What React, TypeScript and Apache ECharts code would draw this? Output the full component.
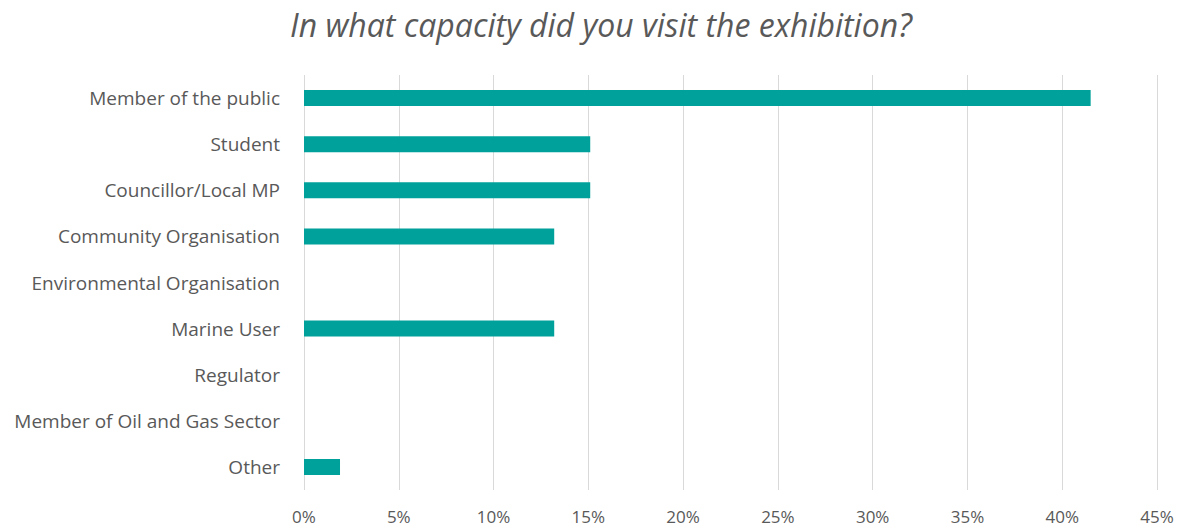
import React, { useEffect, useRef } from "react";
import * as echarts from "echarts";

const categories = [
  "Member of the public",
  "Student",
  "Councillor/Local MP",
  "Community Organisation",
  "Environmental Organisation",
  "Marine User",
  "Regulator",
  "Member of Oil and Gas Sector",
  "Other",
];
const values = [41.5, 15.1, 15.1, 13.2, 0, 13.2, 0, 0, 1.9];
const titleText = "In what capacity did you visit the exhibition?";

const FONT = "'Open Sans', Lato, sans-serif";

export default function App() {
  const ref = useRef<HTMLDivElement>(null);
  useEffect(() => {
    if (!ref.current) return;
    const chart = echarts.init(ref.current, null, { renderer: "svg" });
    chart.setOption({
      animation: false,
      backgroundColor: "#ffffff",
      title: {
        text: titleText,
        left: 290,
        top: 8,
        padding: 0,
        textStyle: {
          fontFamily: FONT,
          fontStyle: "italic",
          fontWeight: "normal",
          fontSize: 32,
          color: "#595959",
        },
      },
      grid: { left: 304, right: 27, top: 75, bottom: 41 },
      xAxis: {
        type: "value",
        min: 0,
        max: 45,
        interval: 5,
        axisLine: { show: false },
        axisTick: { show: false },
        splitLine: { show: true, lineStyle: { color: "#d9d9d9", width: 1 } },
        axisLabel: {
          formatter: (v: number) => `${v}%`,
          color: "#595959",
          fontFamily: FONT,
          fontSize: 17,
          margin: 18,
        },
      },
      yAxis: {
        type: "category",
        data: categories,
        inverse: true,
        axisLine: { show: false },
        axisTick: { show: false },
        axisLabel: {
          color: "#595959",
          fontFamily: FONT,
          fontSize: 19,
          margin: 24,
        },
      },
      series: [
        {
          type: "bar",
          data: values,
          barWidth: 16,
          itemStyle: { color: "#00a19a" },
        },
      ],
    });
    return () => chart.dispose();
  }, []);
  return <div ref={ref} style={{ width: 1184, height: 531, margin: -8 }} />;
}
